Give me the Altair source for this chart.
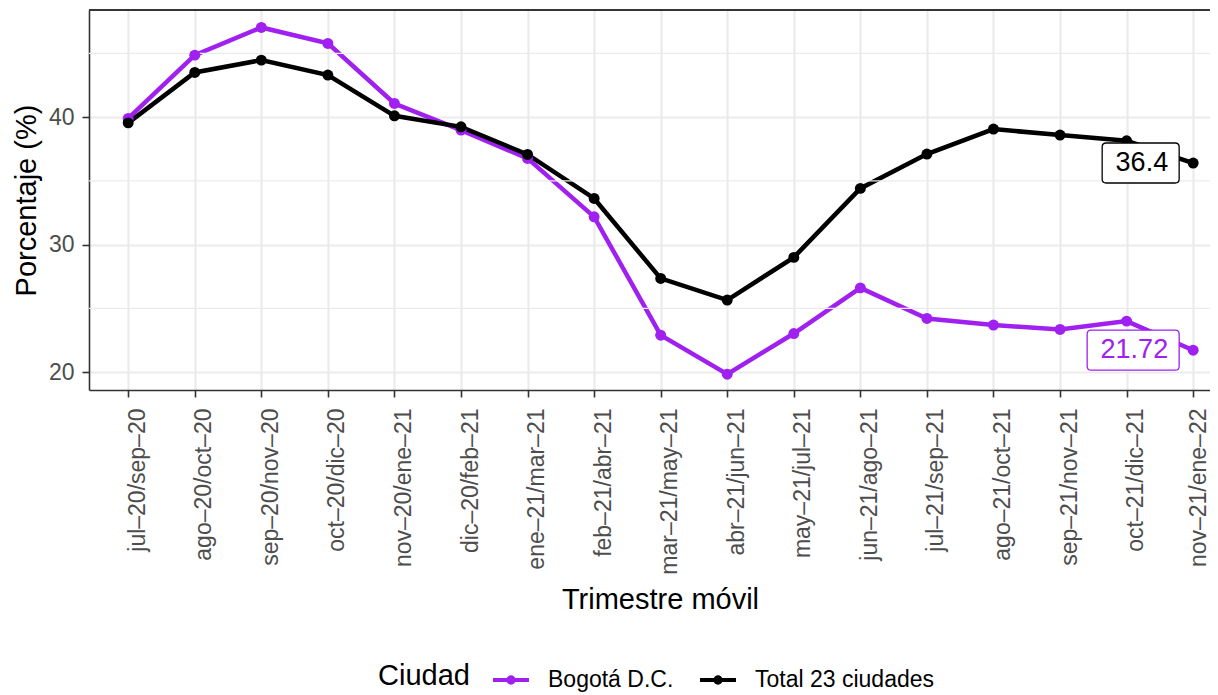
import json
import altair as alt
import pandas as pd

# ---------------- data ----------------
periods = ["jul–20/sep–20", "ago–20/oct–20", "sep–20/nov–20", "oct–20/dic–20",
           "nov–20/ene–21", "dic–20/feb–21", "ene–21/mar–21", "feb–21/abr–21",
           "mar–21/may–21", "abr–21/jun–21", "may–21/jul–21", "jun–21/ago–21",
           "jul–21/sep–21", "ago–21/oct–21", "sep–21/nov–21", "oct–21/dic–21",
           "nov–21/ene–22"]
bogota = [39.9, 44.86, 47.03, 45.78, 41.07, 38.98, 36.76, 32.18, 22.9, 19.84,
          23.03, 26.61, 24.21, 23.69, 23.35, 24.0, 21.72]
total = [39.55, 43.5, 44.47, 43.3, 40.1, 39.24, 37.07, 33.62, 27.35, 25.65,
         29.0, 34.41, 37.1, 39.06, 38.59, 38.14, 36.4]
series = ["Bogotá D.C.", "Total 23 ciudades"]
colors = ["#A020F0", "#000000"]
y_major = [20, 30, 40]
y_minor = [25, 35, 45]

rows = []
for s, vals in zip(series, [bogota, total]):
    for i, (p, v) in enumerate(zip(periods, vals)):
        rows.append({"idx": i, "Trimestre": p, "Ciudad": s, "Valor": v})
df = pd.DataFrame(rows)

last_vals = [bogota[-1], total[-1]]
lab = pd.DataFrame({
    "idx": [len(periods) - 1] * len(series),
    "Ciudad": series,
    "Valor": last_vals,
    "Texto": [f"{v:g}" for v in last_vals],
})
minor_df = pd.DataFrame({"v": y_minor})

# ---------------- style ----------------
FONT = "Liberation Sans"
W, H = 1121, 380
GRID = "#EBEBEB"
DARK = "#333333"


def box_path(x0, x1, y0=-2.0, y1=2.0, r=0.4):
    return (f"M{x0+r},{y0} L{x1-r},{y0} Q{x1},{y0} {x1},{y0+r} "
            f"L{x1},{y1-r} Q{x1},{y1} {x1-r},{y1} L{x0+r},{y1} "
            f"Q{x0},{y1} {x0},{y1-r} L{x0},{y0+r} Q{x0},{y0} {x0+r},{y0} Z")


box_shapes = [box_path(-10.6, -1.4), box_path(-9.1, -1.4)]
legend_symbol = ("M-1,0 L1,0 M-0.15,0 A0.15,0.15 0 1,1 0.15,0 "
                 "A0.15,0.15 0 1,1 -0.15,0 Z")

# discrete positions on a linear index scale (ggplot-like expansion, the
# right part of the panel is cropped as in the original)
xscale = alt.Scale(domain=[-0.589, len(periods) - 1 + 0.253], nice=False,
                   zero=False)
yscale = alt.Scale(domain=[18.6, 48.4], nice=False, zero=False)
cscale = alt.Scale(domain=series, range=colors)

label_expr = json.dumps(periods, ensure_ascii=False) + "[datum.value]"
last_idx = len(periods) - 1

x_axis = alt.Axis(title="Trimestre móvil", values=list(range(len(periods))),
                  labelExpr=label_expr, labelAngle=-90,
                  labelAlign="right", labelBaseline="alphabetic",
                  labelOffset={"condition": {"test": f"datum.value == {last_idx}",
                                             "value": 12},
                               "value": 16},
                  labelPadding=11, labelOverlap=False,
                  labelFontSize=23, labelColor="#4D4D4D",
                  tickSize=7, tickColor=DARK, tickWidth=1.6,
                  domainColor=DARK, domainWidth=1.6,
                  grid=True, gridColor=GRID, gridWidth=2.2,
                  titleFontSize=29, titleFontWeight="normal",
                  titleColor="black", titlePadding=11, titleX=571)
y_axis = alt.Axis(title="Porcentaje (%)", values=y_major,
                  labelFontSize=23, labelColor="#4D4D4D",
                  labelPadding=8, tickSize=7, tickColor=DARK,
                  tickWidth=1.6, domainColor=DARK, domainWidth=1.6,
                  grid=True, gridColor=GRID, gridWidth=2.2,
                  titleFontSize=29, titleFontWeight="normal",
                  titleColor="black", titlePadding=7)

legend = alt.Legend(orient="none", legendX=289, legendY=650,
                    direction="horizontal", title="Ciudad",
                    titleOrient="left", titleAnchor="middle",
                    titleBaseline="middle", titleFontSize=29,
                    titleFontWeight="normal", titleColor="black",
                    titlePadding=21, labelFontSize=23, labelColor="black",
                    labelLimit=400,
                    symbolType=legend_symbol, symbolSize=1296,
                    symbolStrokeWidth=4, labelOffset=17, columnPadding=18)

x_plain = alt.X("idx:Q", scale=xscale)
y_plain = alt.Y("Valor:Q", scale=yscale)

minor = alt.Chart(minor_df).mark_rule(color=GRID, strokeWidth=1.1).encode(
    y=alt.Y("v:Q", scale=yscale, axis=y_axis)
)

base = alt.Chart(df)
lines = base.mark_line(strokeWidth=4.5).encode(
    x=alt.X("idx:Q", scale=xscale, axis=x_axis),
    y=alt.Y("Valor:Q", scale=yscale, axis=y_axis),
    color=alt.Color("Ciudad:N", scale=cscale, legend=legend),
)
points = base.mark_circle(size=120, opacity=1).encode(
    x=x_plain, y=y_plain,
    color=alt.Color("Ciudad:N", scale=cscale),
)

label_layers = []
for s, col, shp in zip(series, colors, box_shapes):
    sub = alt.Chart(lab).transform_filter(alt.datum.Ciudad == s)
    label_layers.append(
        sub.mark_point(size=400, filled=True, fill="white", stroke=col,
                       strokeWidth=1.3, opacity=1, shape=shp).encode(
            x=x_plain, y=y_plain)
    )
    label_layers.append(
        sub.mark_text(align="right", baseline="middle", dx=-25, fontSize=27,
                      font=FONT, color=col).encode(
            x=x_plain, y=y_plain, text="Texto:N")
    )

top_border = alt.Chart(minor_df).mark_rule(color=DARK, strokeWidth=1.6).encode(
    y=alt.value(0)
)

chart = alt.layer(lines, minor, points, *label_layers, top_border).properties(
    width=W, height=H,
    autosize=alt.AutoSizeParams(type="none"),
    padding={"left": 81, "top": 2, "right": 0, "bottom": 305},
).configure(font=FONT).configure_view(stroke="transparent")

chart.save("out.html", embed_options={"renderer": "svg", "actions": False})
